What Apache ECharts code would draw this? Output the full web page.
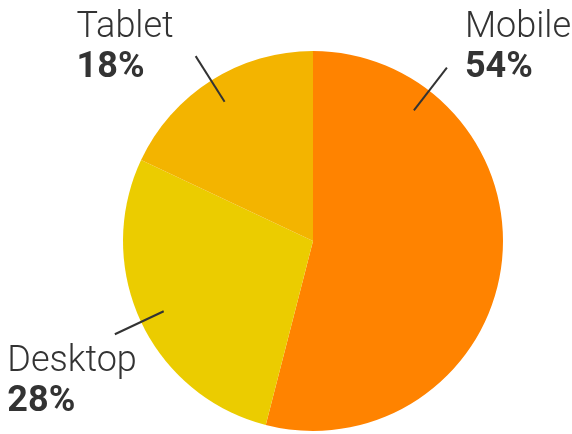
<!DOCTYPE html>
<html>
<head>
<meta charset="utf-8">
<script src="https://cdn.jsdelivr.net/npm/echarts@6/dist/echarts.min.js"></script>
<style>
html, body { margin: 0; padding: 0; background: #fff; }
#chart { width: 572px; height: 434px; }
</style>
</head>
<body>
<div id="chart"></div>
<script>
var devices = ['Mobile', 'Desktop', 'Tablet'];
var shares = [54, 28, 18];
var colors = ['#FF8300', '#EBCC00', '#F3B400'];

var center = [313, 241];

// small nudges so each label sits where the original put it
var labelNudge = [
    { distance: 18, padding: [0, 0, 40, 0] },
    { distance: -22, padding: [96, 0, 0, 0] },
    { distance: 22, padding: [0, 0, 17, 0] }
];
// the Mobile pointer is not on the slice middle in the original, turn it (degrees)
var lineTurn = [-59.5, 0, 0];

function turnPoint(pt, deg) {
    var a = deg * Math.PI / 180;
    var dx = pt[0] - center[0];
    var dy = pt[1] - center[1];
    return [
        center[0] + dx * Math.cos(a) - dy * Math.sin(a),
        center[1] + dx * Math.sin(a) + dy * Math.cos(a)
    ];
}

var chart = echarts.init(document.getElementById('chart'));

var pieData = devices.map(function (name, i) {
    return { name: name, value: shares[i], itemStyle: { color: colors[i] } };
});

// second pie, invisible, only to carry the labels and their lines
var labelData = devices.map(function (name, i) {
    return {
        name: name,
        value: shares[i],
        label: {
            distanceToLabelLine: labelNudge[i].distance,
            padding: labelNudge[i].padding
        }
    };
});

var option = {
    animation: false,
    series: [
        {
            type: 'pie',
            z: 1,
            center: center,
            radius: [0, 190],
            startAngle: 90,
            clockwise: true,
            silent: true,
            label: { show: false },
            labelLine: { show: false },
            data: pieData
        },
        {
            type: 'pie',
            z: 5,
            center: center,
            radius: [0, 165],
            startAngle: 90,
            clockwise: true,
            silent: true,
            avoidLabelOverlap: false,
            itemStyle: { color: 'rgba(0,0,0,0)' },
            label: {
                show: true,
                position: 'outside',
                bleedMargin: 0,
                formatter: function (p) {
                    return '{n|' + p.name + '}\n{p|' + p.value + '%}';
                },
                rich: {
                    n: {
                        fontFamily: 'Roboto',
                        fontSize: 36,
                        fontWeight: 300,
                        color: '#333',
                        lineHeight: 40,
                        align: 'left'
                    },
                    p: {
                        fontFamily: 'Roboto',
                        fontSize: 36,
                        fontWeight: 'bold',
                        color: '#333',
                        lineHeight: 40,
                        align: 'left'
                    }
                }
            },
            labelLine: {
                show: true,
                length: 54,
                length2: 0,
                lineStyle: { color: '#333', width: 2 }
            },
            labelLayout: function (params) {
                var i = params.dataIndex;
                var turn = lineTurn[i];
                if (!turn || !params.labelLinePoints) {
                    return {};
                }
                var pts = params.labelLinePoints.map(function (p) {
                    return turnPoint(p, turn);
                });
                return {
                    labelLinePoints: pts,
                    x: pts[2][0] + labelNudge[i].distance,
                    y: pts[2][1]
                };
            },
            data: labelData
        }
    ]
};

chart.setOption(option);
</script>
</body>
</html>
